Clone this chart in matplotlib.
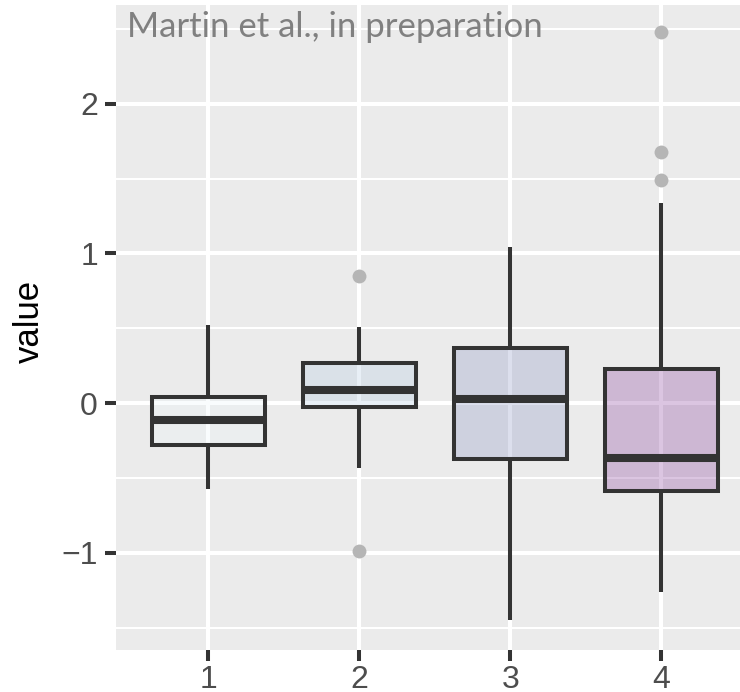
import matplotlib.pyplot as plt
from matplotlib.colors import to_rgba

# box statistics
groups = [1, 2, 3, 4]
q1 = [-0.28, -0.025, -0.375, -0.59]
med = [-0.115, 0.09, 0.03, -0.37]
q3 = [0.04, 0.27, 0.37, 0.23]
whislo = [-0.575, -0.435, -1.45, -1.26]
whishi = [0.52, 0.51, 1.04, 1.34]
outliers = [[], [0.85, -0.99], [], [1.49, 1.68, 2.48]]
fills = ['#EDF8FB', '#B3CDE3', '#8C96C6', '#88419D']

BG = '#EBEBEB'
DARK = '#333333'

fig = plt.figure(figsize=(7.4, 6.92), dpi=100)
ax = fig.add_axes([116 / 740, 42 / 692, 624 / 740, 645 / 692])
ax.set_facecolor(BG)

stats = []
for i in range(len(groups)):
    stats.append(dict(med=med[i], q1=q1[i], q3=q3[i],
                      whislo=whislo[i], whishi=whishi[i], fliers=outliers[i]))

bp = ax.bxp(stats, positions=groups, widths=0.75, patch_artist=True,
            showcaps=False,
            boxprops=dict(linewidth=2.9, edgecolor=DARK),
            whiskerprops=dict(linewidth=2.9, color=DARK, solid_capstyle='butt'),
            medianprops=dict(linewidth=5.8, color=DARK, solid_capstyle='butt'),
            flierprops=dict(marker='o', markersize=10, markerfacecolor='#B5B5B5',
                            markeredgecolor='none', linestyle='none'))
for patch, c in zip(bp['boxes'], fills):
    patch.set_facecolor(to_rgba(c, 0.3))
    patch.set_edgecolor(DARK)

ax.set_xlim(0.39, 4.52)
ax.set_ylim(-1.65, 2.66)
ax.set_xticks(groups)
ax.set_xticklabels([str(g) for g in groups])
ax.set_yticks([-1, 0, 1, 2])
ax.set_yticklabels(['\u22121', '0', '1', '2'])
ax.set_yticks([-1.5, -0.5, 0.5, 1.5, 2.5], minor=True)

ax.set_axisbelow(True)
ax.grid(which='major', color='white', linewidth=2.9)
ax.grid(which='minor', axis='y', color='white', linewidth=1.5)
ax.tick_params(which='major', length=8, width=2.9, color=DARK,
               labelsize=23, labelcolor='#4D4D4D', pad=5)
ax.tick_params(axis='x', which='major', pad=3)
ax.tick_params(which='minor', length=0)
for lab in ax.get_xticklabels() + ax.get_yticklabels():
    lab.set_family(['Liberation Sans', 'DejaVu Sans'])
for s in ax.spines.values():
    s.set_visible(False)

ax.set_ylabel('value', fontsize=25, family='Liberation Sans', color='black')
ax.yaxis.set_label_coords(-0.112, 0.51)

fig.text(127 / 740, (692 - 37) / 692, 'Martin et al., in preparation',
         fontsize=25, family='Lato', color='#808080', va='baseline', ha='left')

fig.savefig('out.png', dpi=100)
